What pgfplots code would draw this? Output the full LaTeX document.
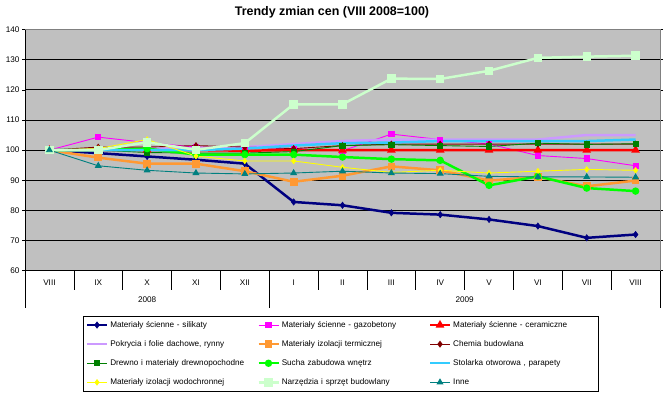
\documentclass[border=0pt]{standalone}
\usepackage{fontspec}
\setmainfont{Liberation Sans}
\usepackage{pgfplots}
\pgfplotsset{compat=1.18}
\definecolor{plotgray}{HTML}{C0C0C0}
\definecolor{cSil}{HTML}{000080}
\definecolor{cGaz}{HTML}{FF00FF}
\definecolor{cCer}{HTML}{FF0000}
\definecolor{cPok}{HTML}{CC99FF}
\definecolor{cTer}{HTML}{FF9933}
\definecolor{cChe}{HTML}{800000}
\definecolor{cDre}{HTML}{008000}
\definecolor{cSuc}{HTML}{00FF00}
\definecolor{cSto}{HTML}{33CCFF}
\definecolor{cWod}{HTML}{FFFF00}
\definecolor{cNar}{HTML}{CCFFCC}
\definecolor{cInn}{HTML}{008080}
\begin{document}
\begin{tikzpicture}[x=1bp,y=1bp]
\useasboundingbox (0,0) rectangle (664,400);
\node[font=\bfseries\fontsize{12.5}{14}\selectfont] at (332,388) {Trendy zmian cen (VIII 2008=100)};
\begin{axis}[
  at={(25bp,129.3bp)}, anchor=south west, scale only axis,
  width=635bp, height=241.2bp,
  xmin=-0.5, xmax=12.5, ymin=60, ymax=140,
  clip=false,
  axis background/.style={fill=plotgray},
  axis line style={draw=gray, line width=0.6pt},
  ytick={60,70,...,140},
  ymajorgrids,
  major grid style={black, line width=0.8pt},
  ytick style={black, line width=0.6pt},
  tick align=outside, major tick length=3bp,
  yticklabel style={font=\fontsize{8.2}{9}\selectfont, xshift=1bp},
  /pgf/number format/assume math mode=true,
  xtick={0,...,12},
  xticklabels={VIII,IX,X,XI,XII,I,II,III,IV,V,VI,VII,VIII},
  xtick style={draw=none},
  xticklabel style={font=\fontsize{8.2}{9}\selectfont, yshift=-3bp},
  legend columns=3,
  legend style={at={(0.0913,-0.1878)}, anchor=north west, draw=black, line width=0.6pt,
    fill=white, font=\fontsize{8.2}{9}\selectfont, inner sep=2.5bp,
    nodes={text width=141bp, align=left, inner sep=2bp, text height=6.5bp, text depth=2bp},
    row sep=6.6bp,
    /tikz/every even column/.append style={column sep=4bp}},
  legend cell align=left,
  legend image code/.code={\draw[mark repeat=2,mark phase=2,#1] plot coordinates {(0bp,0bp) (10bp,0bp) (20bp,0bp)};},
]
\draw[black, line width=0.8pt] (axis cs:-0.5,60) -- (axis cs:-0.5,140);
\draw[black, line width=0.8pt] (axis cs:-0.5,60) -- (axis cs:12.5,60);
\draw[gray, line width=0.6pt] (axis cs:-0.5,140) -- (axis cs:12.5,140) -- (axis cs:12.5,60);
\pgfplotsinvokeforeach{0.5,1.5,2.5,3.5,5.5,6.5,7.5,8.5,9.5,10.5,11.5}{
  \draw[black, line width=0.6pt] (axis cs:#1,60) -- ++(0bp,-19bp);
}
\pgfplotsinvokeforeach{-0.5,4.5,12.5}{
  \draw[black, line width=0.6pt] (axis cs:#1,60) -- ++(0bp,-37bp);
}
\node[font=\fontsize{8.2}{9}\selectfont] at ([yshift=-29bp]axis cs:2,60) {2008};
\node[font=\fontsize{8.2}{9}\selectfont] at ([yshift=-29bp]axis cs:8.5,60) {2009};

% 1 silikaty
\addplot[cSil, line width=2.5pt, mark=diamond*, mark size=3.2bp, mark options={line width=0.5pt}] coordinates {
(0,100) (1,99) (2,97.9) (3,96.8) (4,95.5) (5,82.8) (6,81.7) (7,79.2) (8,78.6) (9,77) (10,74.8) (11,70.9) (12,72)};
\addlegendentry{Materiały ścienne - silikaty}
% 2 gazobetony
\addplot[cGaz, line width=0.9pt, mark=square*, mark size=2.6bp] coordinates {
(0,100) (1,104.3) (2,102.5) (3,101) (4,101) (5,100.5) (6,99.8) (7,105.3) (8,103.5) (9,102) (10,98.2) (11,97.2) (12,94.8)};
\addlegendentry{Materiały ścienne - gazobetony}
% 3 ceramiczne
\addplot[cCer, line width=2.5pt, mark=triangle*, mark size=2.6bp] coordinates {
(0,100) (1,100) (2,100) (3,100) (4,99.8) (5,100) (6,100) (7,100) (8,100) (9,100) (10,100) (11,100) (12,100)};
\addlegendentry{Materiały ścienne - ceramiczne}
% 4 pokrycia
\addplot[cPok, line width=2.5pt, mark=none] coordinates {
(0,100) (1,100) (2,100.5) (3,100.5) (4,101) (5,102) (6,103) (7,103.5) (8,103.5) (9,103.5) (10,103.5) (11,105) (12,105)};
\addlegendentry{Pokrycia i folie dachowe, rynny}
% 5 izolacji termicznej
\addplot[cTer, line width=2.5pt, mark=square*, mark size=2.6bp] coordinates {
(0,100) (1,97.5) (2,95.5) (3,95.5) (4,93) (5,89.5) (6,91.5) (7,94.6) (8,93.3) (9,89.9) (10,91.1) (11,88) (12,89.9)};
\addlegendentry{Materiały izolacji termicznej}
% 6 chemia
\addplot[cChe, line width=0.9pt, mark=diamond*, mark size=2.8bp] coordinates {
(0,100) (1,101) (2,101) (3,101.5) (4,101) (5,100.5) (6,101.5) (7,102) (8,102) (9,102) (10,102) (11,102) (12,102)};
\addlegendentry{Chemia budowlana}
% 7 drewno
\addplot[cDre, line width=0.9pt, mark=square*, mark size=2.6bp] coordinates {
(0,100) (1,100) (2,99.2) (3,99) (4,99) (5,99.5) (6,101.5) (7,101.8) (8,101.5) (9,101.2) (10,102.3) (11,101.9) (12,102.1)};
\addlegendentry{Drewno i materiały drewnopochodne}
% 8 sucha zabudowa
\addplot[cSuc, line width=2.5pt, mark=*, mark size=2.4bp] coordinates {
(0,100) (1,100) (2,100.5) (3,98.5) (4,98.5) (5,98.5) (6,97.7) (7,97) (8,96.6) (9,88.3) (10,91.3) (11,87.4) (12,86.4)};
\addlegendentry{Sucha zabudowa wnętrz}
% 9 stolarka
\addplot[cSto, line width=2.5pt, mark=none] coordinates {
(0,100) (1,100) (2,100) (3,100) (4,100.5) (5,101.5) (6,102.3) (7,102.5) (8,103) (9,103) (10,103) (11,103) (12,103.5)};
\addlegendentry{Stolarka otworowa , parapety}
% 10 wodochronnej
\addplot[cWod, line width=0.9pt, mark=diamond*, mark size=2.6bp] coordinates {
(0,100) (1,100.5) (2,103.5) (3,98) (4,96.4) (5,96.4) (6,94.3) (7,92.6) (8,93.3) (9,92.4) (10,93) (11,93.6) (12,93.3)};
\addlegendentry{Materiały izolacji wodochronnej}
% 11 narzedzia
\addplot[cNar, line width=2.5pt, mark=square*, mark size=3bp] coordinates {
(0,100) (1,100) (2,102.6) (3,100.1) (4,102.3) (5,115.2) (6,115.2) (7,123.7) (8,123.6) (9,126.3) (10,130.6) (11,131) (12,131.3)};
\addlegendentry{Narzędzia i sprzęt budowlany}
% 12 inne
\addplot[cInn, line width=0.9pt, mark=triangle*, mark size=3.2bp] coordinates {
(0,100) (1,94.8) (2,93.3) (3,92.4) (4,92.1) (5,92.4) (6,93) (7,92.4) (8,92.2) (9,91.3) (10,91.1) (11,91.1) (12,91)};
\addlegendentry{Inne}
\end{axis}
\end{tikzpicture}
\end{document}
